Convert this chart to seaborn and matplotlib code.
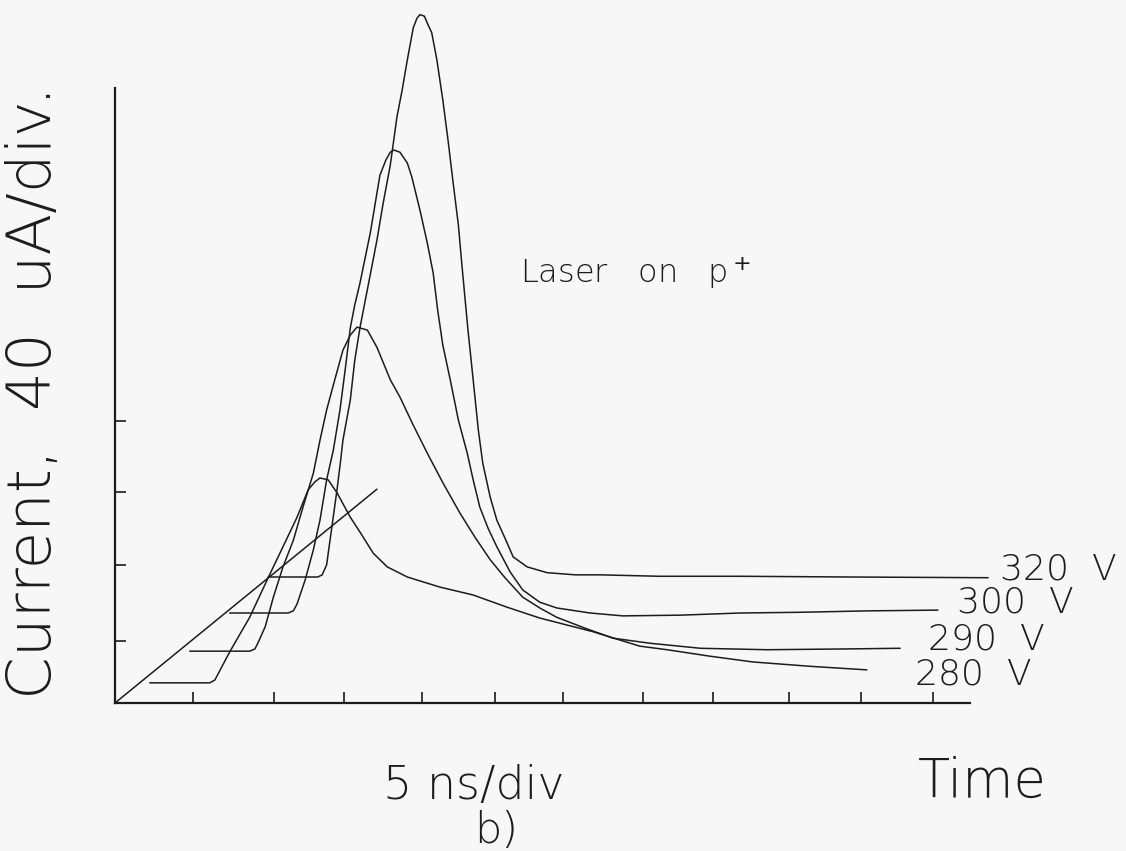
import matplotlib
matplotlib.use("Agg")
import matplotlib.pyplot as plt
import seaborn as sns
import pandas as pd

# ---- data (time in divisions of 5 ns, current in divisions of 40 uA) ----
t_280 = [0.47, 1.28, 1.35, 1.55, 1.82, 2.07, 2.27, 2.46, 2.61, 2.70, 2.77, 2.88, 3.00, 3.18, 3.31,
         3.49, 3.68, 3.95, 4.39, 4.84, 5.30, 5.74, 6.46, 7.09, 7.46, 8.04, 8.62, 9.39, 10.16]
i_280 = [0.28, 0.28, 0.32, 0.71, 1.19, 1.74, 2.17, 2.58, 2.96, 3.07, 3.125, 3.10, 2.92, 2.58, 2.375,
         2.08, 1.89, 1.75, 1.61, 1.50, 1.33, 1.18, 0.99, 0.79, 0.74, 0.65, 0.57, 0.51, 0.46]

t_290 = [1.01, 1.82, 1.89, 1.93, 2.03, 2.14, 2.27, 2.41, 2.54, 2.68, 2.77, 2.86, 2.97, 3.08, 3.18,
         3.27, 3.41, 3.54, 3.72, 3.85, 4.03, 4.22, 4.43, 4.66, 4.86, 5.07, 5.27, 5.51, 5.74, 5.97,
         6.35, 6.73, 7.23, 7.91, 8.81, 9.80, 10.61]
i_290 = [0.72, 0.72, 0.75, 0.83, 1.06, 1.47, 1.89, 2.26, 2.72, 3.19, 3.65, 4.07, 4.49, 4.90, 5.11,
         5.22, 5.18, 4.94, 4.49, 4.25, 3.86, 3.47, 3.06, 2.64, 2.31, 1.99, 1.74, 1.47, 1.32, 1.19,
         1.04, 0.90, 0.83, 0.76, 0.74, 0.75, 0.76]

t_300 = [1.55, 2.34, 2.41, 2.46, 2.57, 2.68, 2.77, 2.86, 2.95, 3.04, 3.11, 3.18, 3.24, 3.31, 3.45,
         3.58, 3.66, 3.72, 3.77, 3.85, 3.95, 4.01, 4.12, 4.22, 4.30, 4.36, 4.43, 4.53, 4.64, 4.76,
         4.84, 4.93, 5.04, 5.16, 5.34, 5.51, 5.74, 5.97, 6.42, 6.86, 7.64, 8.45, 9.26, 10.20, 11.12]
i_300 = [1.25, 1.25, 1.28, 1.375, 1.71, 2.125, 2.54, 3.10, 3.51, 4.07, 4.625, 5.21, 5.53, 5.83, 6.53,
         7.33, 7.54, 7.65, 7.68, 7.65, 7.50, 7.31, 6.85, 6.39, 5.97, 5.46, 4.97, 4.49, 3.93, 3.47,
         3.10, 2.72, 2.43, 2.17, 1.82, 1.57, 1.40, 1.32, 1.25, 1.21, 1.22, 1.25, 1.26, 1.28, 1.29]

t_320 = [2.07, 2.74, 2.80, 2.86, 2.93, 3.00, 3.05, 3.08, 3.18, 3.24, 3.31, 3.41, 3.54, 3.62, 3.72,
         3.81, 3.88, 3.95, 4.03, 4.08, 4.12, 4.18, 4.23, 4.28, 4.35, 4.43, 4.50, 4.57, 4.64, 4.69,
         4.77, 4.84, 4.91, 4.97, 5.07, 5.16, 5.30, 5.38, 5.57, 5.84, 6.22, 6.55, 7.36, 8.45, 9.93, 11.80]
i_320 = [1.75, 1.75, 1.78, 1.92, 2.44, 2.96, 3.375, 3.65, 4.21, 4.76, 5.21, 5.74, 6.43, 6.92, 7.47,
         8.14, 8.51, 8.93, 9.375, 9.51, 9.56, 9.54, 9.42, 9.31, 8.93, 8.375, 7.82, 7.22, 6.64, 6.06,
         5.18, 4.49, 3.79, 3.33, 2.86, 2.54, 2.22, 2.03, 1.89, 1.81, 1.78, 1.78, 1.76, 1.76, 1.75, 1.74]

t_line = [0.0, 3.54]
i_line = [0.0, 2.97]

series_names = ["280 V", "290 V", "300 V", "320 V"]
label_pos_t = [10.81, 10.99, 11.38, 11.96]
label_pos_i = [0.39, 0.875, 1.39, 1.85]

x_ticks = [1.05, 2.15, 3.10, 4.15, 5.13, 6.05, 7.13, 8.08, 9.11, 10.08, 11.06]
y_ticks = [0.86, 1.92, 2.93, 3.92]

# ---- build long table ----
frames = []
for name, t, i in zip(series_names + ["line"],
                      [t_280, t_290, t_300, t_320, t_line],
                      [i_280, i_290, i_300, i_320, i_line]):
    frames.append(pd.DataFrame({"t": t, "i": i, "series": name, "order": range(len(t))}))
df = pd.concat(frames, ignore_index=True)

sns.set_style("ticks")
plt.rcParams["font.family"] = ["DejaVu Sans"]

BG = "#f7f7f7"
INK = "#1c1c1c"

fig = plt.figure(figsize=(11.26, 8.51), dpi=100, facecolor=BG)
ax = fig.add_axes([115 / 1126, 148 / 851, 12 * 74 / 1126, 9.7 * 72 / 851])
ax.set_facecolor(BG)

sns.lineplot(data=df, x="t", y="i", units="series", estimator=None, sort=False,
             color=INK, linewidth=1.1, legend=False, ax=ax)

ax.set_xlim(0, 12)
ax.set_ylim(0, 9.7)
ax.set_xticks(x_ticks)
ax.set_yticks(y_ticks)
ax.tick_params(direction="in", length=8, width=1.2, colors=INK,
               labelbottom=False, labelleft=False)
ax.set_xlabel("")
ax.set_ylabel("")
for s in ["top", "right"]:
    ax.spines[s].set_visible(False)
ax.spines["left"].set_bounds(0, 8.54)
ax.spines["bottom"].set_bounds(0, 11.55)
for s in ["left", "bottom"]:
    ax.spines[s].set_linewidth(1.6)
    ax.spines[s].set_color(INK)

thin = dict(color=INK, fontweight=200)
for name, tx, ty in zip(series_names, label_pos_t, label_pos_i):
    ax.text(tx, ty, name.replace(" ", "  "), fontsize=26, ha="left", va="center",
            clip_on=False, **thin)

ax.text((520 - 115) / 74, (703 - 273) / 72, "Laser   on   p$^+$", fontsize=23,
        ha="left", va="center", **thin)

fig.text(35 / 1126, 1 - 392 / 851, "Current,  40  uA/div.", rotation=90,
         fontsize=44, ha="center", va="center", **thin)
fig.text(383 / 1126, 1 - 786 / 851, "5 ns/div", fontsize=33, ha="left", va="center", **thin)
fig.text(474 / 1126, 1 - 830 / 851, "b)", fontsize=31, ha="left", va="center", **thin)
fig.text(918 / 1126, 1 - 782 / 851, "Time", fontsize=38, ha="left", va="center", **thin)

fig.savefig("out.png", dpi=100, facecolor=BG)
